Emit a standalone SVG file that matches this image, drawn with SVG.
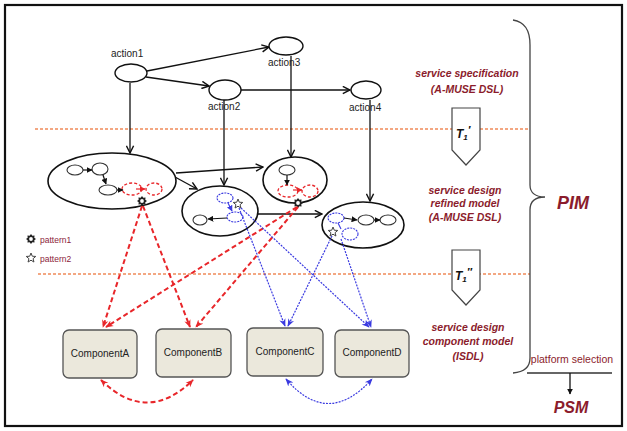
<svg xmlns="http://www.w3.org/2000/svg" width="627" height="431" viewBox="0 0 627 431">
<style>
.frame{fill:#fff;stroke:#111;stroke-width:2.2}
.act{fill:#fff;stroke:#111;stroke-width:1.4}
.big{fill:#fff;stroke:#111;stroke-width:1.6}
.sm{fill:#fff;stroke:#333;stroke-width:1.1}
.smr{fill:none;stroke:#e8262a;stroke-width:1.3;stroke-dasharray:3,2}
.smb{fill:none;stroke:#3a3ae0;stroke-width:1.1;stroke-dasharray:2,1}
.ln{fill:none;stroke:#111;stroke-width:1.3}
.lns{fill:none;stroke:#111;stroke-width:1.2}
.red{fill:none;stroke:#e8262a;stroke-width:2;stroke-dasharray:5,3}
.blue{fill:none;stroke:#3a3ae0;stroke-width:1.2;stroke-dasharray:2,1.2}
.or{fill:none;stroke:#f08a5a;stroke-width:1.3;stroke-dasharray:3,2}
.tb{fill:#fff;stroke:#444;stroke-width:1.2}
.comp{fill:#ebe8dc;stroke:#555;stroke-width:1.3}
.lbl{font-family:"Liberation Sans",Arial,sans-serif;font-size:10px;fill:#222}
.ct{font-family:"Liberation Sans",Arial,sans-serif;font-size:10px;fill:#222;text-anchor:middle}
.dr{font-family:"Liberation Sans",Arial,sans-serif;font-size:10.5px;font-weight:bold;font-style:italic;fill:#8b1c2c;text-anchor:middle}
.big-t{font-family:"Liberation Sans",Arial,sans-serif;font-weight:bold;font-style:italic;fill:#8b1c2c;text-anchor:middle}
.leg{font-family:"Liberation Sans",Arial,sans-serif;font-size:8.5px;fill:#8b1c3a}
.tt{font-family:"Liberation Sans",Arial,sans-serif;font-weight:bold;font-style:italic;fill:#111}
</style>
<defs>
<marker id="ab" viewBox="0 0 10 10" refX="9" refY="5" markerWidth="9" markerHeight="9" markerUnits="userSpaceOnUse" orient="auto">
<path d="M1,1 L9,5 L1,9" fill="none" stroke="#111" stroke-width="1.6"/>
</marker>
<marker id="abs" viewBox="0 0 10 10" refX="9" refY="5" markerWidth="6" markerHeight="6" markerUnits="userSpaceOnUse" orient="auto">
<path d="M0,0 L10,5 L0,10 Z" fill="#111"/>
</marker>
<marker id="ars" viewBox="0 0 10 10" refX="9" refY="5" markerWidth="6" markerHeight="6" markerUnits="userSpaceOnUse" orient="auto">
<path d="M0,0 L10,5 L0,10 Z" fill="#e8262a"/>
</marker>
<marker id="abl" viewBox="0 0 10 10" refX="9" refY="5" markerWidth="6" markerHeight="6" markerUnits="userSpaceOnUse" orient="auto">
<path d="M0,0 L10,5 L0,10 Z" fill="#3a3ae0"/>
</marker>
<marker id="ar" viewBox="0 0 10 10" refX="9" refY="5" markerWidth="8" markerHeight="8" markerUnits="userSpaceOnUse" orient="auto-start-reverse">
<path d="M0,1 L10,5 L0,9 L3,5 Z" fill="#e8262a"/>
</marker>
<marker id="abu" viewBox="0 0 10 10" refX="9" refY="5" markerWidth="8" markerHeight="8" markerUnits="userSpaceOnUse" orient="auto-start-reverse">
<path d="M0,1 L10,5 L0,9 L3,5 Z" fill="#3a3ae0"/>
</marker>
<g id="gear">
<polygon points="5,0 3.3,1.36 3.54,3.54 1.36,3.3 0,5 -1.36,3.3 -3.54,3.54 -3.3,1.36 -5,0 -3.3,-1.36 -3.54,-3.54 -1.36,-3.3 0,-5 1.36,-3.3 3.54,-3.54 3.3,-1.36" fill="#222"/>
<circle r="1.9" fill="#fff"/>
</g>
<g id="star">
<polygon points="0,-5 1.29,-1.78 4.76,-1.55 2.09,0.68 2.94,4.05 0,2.2 -2.94,4.05 -2.09,0.68 -4.76,-1.55 -1.29,-1.78" fill="#fff" stroke="#444" stroke-width="1"/>
</g>
</defs>

<rect class="frame" x="5" y="5" width="617" height="421"/>

<g id="separators">
<path class="or" d="M35,129 L530,129"/>
<path class="or" d="M38,274 L530,274"/>
</g>

<g id="connectors">
<path class="ln" d="M147,71 L269,47" marker-end="url(#ab)"/>
<path class="ln" d="M146,77 L209,86" marker-end="url(#ab)"/>
<path class="ln" d="M241,90 L350,90" marker-end="url(#ab)"/>
<path class="ln" d="M130,83 L130,153" marker-end="url(#ab)"/>
<path class="ln" d="M224,100 L224,185" marker-end="url(#ab)"/>
<path class="ln" d="M291,56 L291,157" marker-end="url(#ab)"/>
<path class="ln" d="M370,100 L370,201" marker-end="url(#ab)"/>
<path class="ln" d="M176,173 L263,167" marker-end="url(#ab)"/>
<path class="ln" d="M175,177 L197,189" marker-end="url(#ab)"/>
<path class="ln" d="M258,214 L322,214" marker-end="url(#ab)"/>
</g>

<g id="action1"><ellipse class="act" cx="131" cy="73" rx="16" ry="9"/><text class="lbl" x="111" y="57">action1</text></g>
<g id="action3"><ellipse class="act" cx="286" cy="46" rx="17" ry="9"/><text class="lbl" x="268" y="66">action3</text></g>
<g id="action2"><ellipse class="act" cx="225" cy="90" rx="16" ry="10"/><text class="lbl" x="208" y="110">action2</text></g>
<g id="action4"><ellipse class="act" cx="366" cy="90" rx="15" ry="9"/><text class="lbl" x="349" y="111">action4</text></g>

<g id="model1">
<ellipse class="big" cx="112" cy="181" rx="64" ry="28"/>
<ellipse class="sm" cx="75" cy="170" rx="8" ry="5"/>
<ellipse class="sm" cx="100" cy="169" rx="8" ry="6"/>
<ellipse class="sm" cx="108" cy="190" rx="9" ry="5"/>
<ellipse class="smr" cx="132" cy="189" rx="10" ry="6"/>
<ellipse class="smr" cx="154" cy="189" rx="8" ry="6"/>
<path class="lns" d="M83,170 L92,170" marker-end="url(#abs)"/>
<path class="lns" d="M103,175 L106,184" marker-end="url(#abs)"/>
<path class="lns" d="M117,190 L123,190" marker-end="url(#abs)"/>
<path fill="none" stroke="#e8262a" stroke-width="1.2" d="M136,189 L145,189" marker-end="url(#ars)"/>
<use href="#gear" x="142" y="201"/>
</g>

<g id="model2">
<ellipse class="big" cx="220" cy="211" rx="38" ry="25"/>
<ellipse class="smb" cx="225" cy="198" rx="8" ry="5"/>
<ellipse class="smb" cx="235" cy="217" rx="8" ry="5"/>
<ellipse class="sm" cx="200" cy="220" rx="7" ry="5"/>
<path fill="none" stroke="#3a3ae0" stroke-width="1.1" d="M228,203 L232,211" marker-end="url(#abl)"/>
<path class="lns" d="M227,218 L208,219" marker-end="url(#abs)"/>
<use href="#star" x="238" y="204"/>
</g>

<g id="model3">
<ellipse class="big" cx="295" cy="180" rx="32" ry="23"/>
<ellipse class="sm" cx="287" cy="170" rx="8" ry="5"/>
<ellipse class="smr" cx="288" cy="191" rx="10" ry="6"/>
<ellipse class="smr" cx="310" cy="191" rx="8" ry="6"/>
<path class="lns" d="M287,175 L287,185" marker-end="url(#abs)"/>
<path fill="none" stroke="#e8262a" stroke-width="1.2" d="M293,190 L302,190" marker-end="url(#ars)"/>
<use href="#gear" x="298" y="203"/>
</g>

<g id="model4">
<ellipse class="big" cx="363" cy="225" rx="41" ry="23"/>
<ellipse class="smb" cx="336" cy="218" rx="8" ry="5"/>
<ellipse class="smb" cx="350" cy="234" rx="8" ry="6"/>
<ellipse class="sm" cx="366" cy="220" rx="8" ry="5"/>
<ellipse class="sm" cx="388" cy="220" rx="8" ry="5"/>
<path class="lns" d="M344,218 L357,220" marker-end="url(#abs)"/>
<path class="lns" d="M374,220 L380,220" marker-end="url(#abs)"/>
<path fill="none" stroke="#3a3ae0" stroke-width="1.1" d="M338,223 L341,229"/>
<use href="#star" x="333" y="232"/>
</g>

<g id="pattern-links">
<path class="red" d="M142,206 L103,327" marker-end="url(#ar)"/>
<path class="red" d="M143,206 L190,327" marker-end="url(#ar)"/>
<path class="red" d="M297,207 L106,327" marker-end="url(#ar)"/>
<path class="red" d="M298,207 L196,327" marker-end="url(#ar)"/>
<path class="red" d="M101,380 Q147,425 193,380" marker-start="url(#ar)" marker-end="url(#ar)"/>
<path class="blue" d="M239,208 L285,326" marker-end="url(#abu)"/>
<path class="blue" d="M241,208 L369,327" marker-end="url(#abu)"/>
<path class="blue" d="M332,236 L288,326" marker-end="url(#abu)"/>
<path class="blue" d="M341,239 L371,327" marker-end="url(#abu)"/>
<path class="blue" d="M286,379 Q328,428 372,379" marker-start="url(#abu)" marker-end="url(#abu)"/>
</g>

<g id="componentA"><rect class="comp" x="63" y="330" width="74" height="48" rx="6"/><text class="ct" x="100" y="357">ComponentA</text></g>
<g id="componentB"><rect class="comp" x="156" y="329" width="75" height="48" rx="6"/><text class="ct" x="193" y="356">ComponentB</text></g>
<g id="componentC"><rect class="comp" x="247" y="328" width="76" height="48" rx="6"/><text class="ct" x="285" y="355">ComponentC</text></g>
<g id="componentD"><rect class="comp" x="335" y="330" width="74" height="47" rx="6"/><text class="ct" x="372" y="356">ComponentD</text></g>

<g id="legend">
<use href="#gear" x="31" y="239"/>
<text class="leg" x="40" y="243">pattern1</text>
<use href="#star" x="31" y="258"/>
<text class="leg" x="40" y="262">pattern2</text>
</g>

<g id="T1a">
<polygon class="tb" points="452,108 480,108 480,150 466,165 452,150"/>
<text class="tt" x="456" y="138" font-size="12">T<tspan font-size="8" dy="2">1</tspan><tspan font-size="11" dy="-6">′</tspan></text>
</g>
<g id="T1b">
<polygon class="tb" points="452,250 480,250 480,290 466,305 452,290"/>
<text class="tt" x="455" y="280" font-size="12">T<tspan font-size="8" dy="2">1</tspan><tspan font-size="11" dy="-6">″</tspan></text>
</g>

<g id="labels">
<text class="dr" x="467" y="77">service specification</text>
<text class="dr" x="467" y="93">(A-MUSE DSL)</text>
<text class="dr" x="465" y="194">service design</text>
<text class="dr" x="465" y="207">refined model</text>
<text class="dr" x="465" y="221">(A-MUSE DSL)</text>
<text class="dr" x="468" y="331">service design</text>
<text class="dr" x="468" y="345">component model</text>
<text class="dr" x="468" y="360">(ISDL)</text>
<text class="big-t" x="573" y="209" font-size="18">PIM</text>
<text class="big-t" x="571" y="413" font-size="16">PSM</text>
<text x="572" y="363" font-family="Liberation Sans, Arial, sans-serif" font-size="10.5" fill="#8b1c2c" text-anchor="middle">platform selection</text>
</g>

<g id="brace">
<path fill="none" stroke="#444" stroke-width="1.3" d="M513,20 C525,22 530,30 530,45 L530,185 C530,193 536,197 545,197 C536,197 530,201 530,210 L530,358 C530,367 525,372 513,373"/>
<path fill="none" stroke="#333" stroke-width="1.3" d="M527,373 L612,373"/>
<path class="ln" d="M570,373 L570,394" marker-end="url(#abs)"/>
</g>
</svg>
